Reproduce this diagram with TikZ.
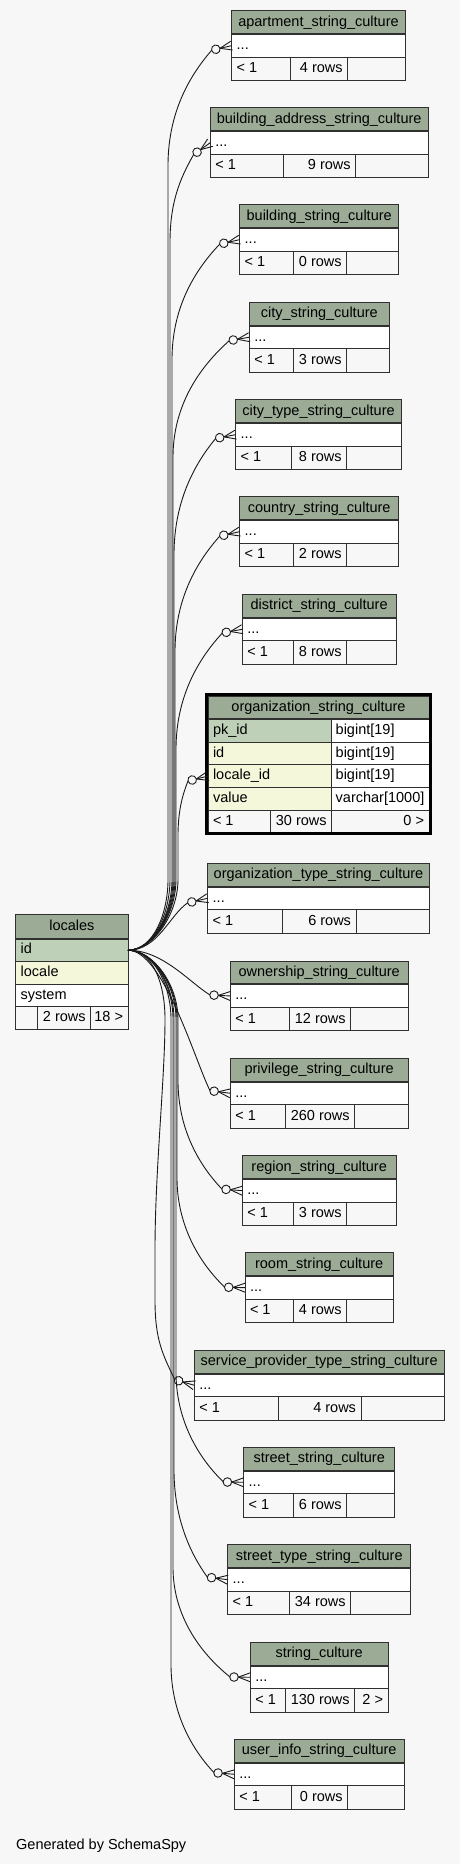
\documentclass[tikz,border=0pt]{standalone}
\usepackage{fontspec}
\setmainfont{Liberation Sans}
\usetikzlibrary{decorations.markings,calc}
\definecolor{bg}{HTML}{F7F7F7}
\definecolor{hdr}{HTML}{9BAB96}
\definecolor{pk}{HTML}{BED1B8}
\definecolor{idx}{HTML}{F4F7DA}
\definecolor{bd}{HTML}{303030}
\definecolor{ln}{HTML}{1A1A1A}

% #1 name, #2 x left, #3 x right, #4 y top, #5 split1, #6 split2, #7 title, #8 rows, #9 last cell
\newcommand{\stab}[9]{%
  \node[cell,fill=hdr,minimum width={(#3-#2)*1bp}] (#1) at (#2,#4) {};
  \node[cell,fill=white,minimum width={(#3-#2)*1bp}] (#1-r) at (#2,{#4+23.3}) {};
  \node[cell,fill=bg,minimum width={(#5-#2)*1bp}] (#1-f1) at (#2,{#4+46.6}) {};
  \node[cell,fill=bg,minimum width={(#6-#5)*1bp}] (#1-f2) at (#5,{#4+46.6}) {};
  \node[cell,fill=bg,minimum width={(#3-#6)*1bp}] (#1-f3) at (#6,{#4+46.6}) {};
  \draw[bd,line width=1.8bp] (#1.south west) -- (#1.south east);
  \node[txt] (#1-tt) at (#1.center) {#7};
  \node[txt,anchor=west] (#1-rt) at ([xshift=5bp]#1-r.west) {...};
  \node[txt,anchor=west] (#1-t1) at ([xshift=5bp]#1-f1.west) {< 1};
  \node[txt,anchor=east] (#1-t2) at ([xshift=-5bp]#1-f2.east) {#8};
  \node[txt,anchor=east] (#1-t3) at ([xshift=-5bp]#1-f3.east) {#9};
}
% #1 target anchor, #2 vertical x, #3 target y, #4 approach length, #5 table left x,
% #6 sign (1 = target above, -1 = below), #7 #8 offset of the circle side point from the target
\newcommand{\fkedge}[8]{%
  \pgfmathsetmacro\edS{949.3-#6*70}%
  \pgfmathsetmacro\edSc{#6*35}%
  \pgfmathsetmacro\edA{#3+#6*#4}%
  \pgfmathsetmacro\edB{-#6*0.4*#4}%
  \pgfmathsetmacro\edC{-0.6*(#5+#7-#2)}%
  \pgfmathsetmacro\edD{#6*0.25*#4}%
  \draw[fk] (loc-id.east) .. controls +(25,0) and +(0,\edSc) .. (#2,\edS) -- (#2,\edA)
    .. controls +(0,\edB) and +(\edC,\edD) .. ($(#1)+(#7,#8)$) -- (#1);}

\begin{document}
\begin{tikzpicture}[x=1bp,y=-1bp,
  every node/.style={font=\fontsize{14.5bp}{17bp}\selectfont},
  cell/.style={draw=bd,line width=1bp,inner sep=0,outer sep=0,minimum height=23.3bp,anchor=north west},
  txt/.style={inner sep=0,outer sep=0,text height=10.5bp,text depth=3bp},
  fk/.style={draw=ln,line width=0.9bp,postaction={decorate},
    decoration={markings,mark=at position -0.3pt with {
      \draw[ln,line width=0.9bp] (-11.7bp,0bp) -- (0.3pt,4.5bp) (-11.7bp,0bp) -- (0.3pt,-4.5bp);
      \draw[ln,line width=0.9bp,fill=bg] (-16bp,0bp) circle[radius=4.3bp];}}}]
\fill[bg] (0,0) rectangle (460,1864);
\useasboundingbox (0,0) rectangle (460,1864);

% small tables
\stab{apt}{231.7}{405.3}{10.7}{290.7}{347.7}{apartment\_string\_culture}{4 rows}{}
\stab{bldaddr}{210.3}{428}{107.7}{283.7}{355.7}{building\_address\_string\_culture}{9 rows}{}
\stab{bldstr}{239.7}{398.7}{204.7}{293}{346.7}{building\_string\_culture}{0 rows}{}
\stab{city}{249.3}{389.3}{302.3}{293}{346.7}{city\_string\_culture}{3 rows}{}
\stab{citytype}{235.7}{401.3}{399.7}{291.7}{346.7}{city\_type\_string\_culture}{8 rows}{}
\stab{country}{239.7}{398.7}{496.7}{293}{346.7}{country\_string\_culture}{2 rows}{}
\stab{district}{242.3}{396}{594.3}{293}{346.7}{district\_string\_culture}{8 rows}{}
\stab{orgtype}{207.7}{429.3}{863.3}{282.7}{356}{organization\_type\_string\_culture}{6 rows}{}
\stab{own}{230.3}{408}{961}{289}{350.7}{ownership\_string\_culture}{12 rows}{}
\stab{priv}{230.3}{408}{1058.3}{285}{354.7}{privilege\_string\_culture}{260 rows}{}
\stab{region}{242.3}{396}{1155.7}{293}{346.7}{region\_string\_culture}{3 rows}{}
\stab{room}{245}{393.3}{1252.7}{293}{346.7}{room\_string\_culture}{4 rows}{}
\stab{svc}{194.3}{444}{1350.3}{278.7}{361}{service\_provider\_type\_string\_culture}{4 rows}{}
\stab{street}{243.7}{394.7}{1447.3}{293}{346.7}{street\_string\_culture}{6 rows}{}
\stab{streettype}{227.7}{410.7}{1544.7}{289}{350.7}{street\_type\_string\_culture}{34 rows}{}
\stab{strc}{250.3}{388}{1642.3}{285}{354.7}{string\_culture}{130 rows}{2 >}
\stab{user}{234.3}{404}{1739.3}{291.7}{347.7}{user\_info\_string\_culture}{0 rows}{}

% locales
\node[cell,fill=hdr,minimum width=112.3bp,minimum height=24.4bp] (loc) at (15.7,914.3) {};
\node[cell,fill=pk,minimum width=112.3bp,minimum height=23bp] (loc-id) at (15.7,938.7) {};
\node[cell,fill=idx,minimum width=112.3bp,minimum height=23bp] (loc-locale) at (15.7,961.7) {};
\node[cell,fill=white,minimum width=112.3bp,minimum height=22bp] (loc-sys) at (15.7,984.7) {};
\node[cell,fill=bg,minimum width=22bp,minimum height=22.6bp] (loc-f1) at (15.7,1006.7) {};
\node[cell,fill=bg,minimum width=53bp,minimum height=22.6bp] (loc-f2) at (37.7,1006.7) {};
\node[cell,fill=bg,minimum width=37.3bp,minimum height=22.6bp] (loc-f3) at (90.7,1006.7) {};
\draw[bd,line width=1.8bp] (loc.south west) -- (loc.south east);
\node[txt] (loc-tt) at (loc.center) {locales};
\node[txt,anchor=west] (loc-t1) at ([xshift=5bp]loc-id.west) {id};
\node[txt,anchor=west] (loc-t2) at ([xshift=5bp]loc-locale.west) {locale};
\node[txt,anchor=west] (loc-t3) at ([xshift=5bp]loc-sys.west) {system};
\node[txt,anchor=east] (loc-t4) at ([xshift=-5bp]loc-f2.east) {2 rows};
\node[txt,anchor=east] (loc-t5) at ([xshift=-5bp]loc-f3.east) {18 >};

% organization_string_culture
\node[cell,fill=hdr,minimum width=221bp] (org) at (208,696) {};
\node[cell,fill=pk,minimum width=123.7bp,minimum height=22.7bp] (org-c1a) at (208,719.3) {};
\node[cell,fill=white,minimum width=97.3bp,minimum height=22.7bp] (org-c1b) at (331.7,719.3) {};
\node[cell,fill=idx,minimum width=123.7bp,minimum height=22.7bp] (org-c2a) at (208,742) {};
\node[cell,fill=white,minimum width=97.3bp,minimum height=22.7bp] (org-c2b) at (331.7,742) {};
\node[cell,fill=idx,minimum width=123.7bp,minimum height=22.7bp] (org-c3a) at (208,764.7) {};
\node[cell,fill=white,minimum width=97.3bp,minimum height=22.7bp] (org-c3b) at (331.7,764.7) {};
\node[cell,fill=idx,minimum width=123.7bp,minimum height=22.7bp] (org-c4a) at (208,787.3) {};
\node[cell,fill=white,minimum width=97.3bp,minimum height=22.7bp] (org-c4b) at (331.7,787.3) {};
\node[cell,fill=bg,minimum width=62.3bp,minimum height=22.7bp] (org-f1) at (208,810) {};
\node[cell,fill=bg,minimum width=61.4bp,minimum height=22.7bp] (org-f2) at (270.3,810) {};
\node[cell,fill=bg,minimum width=97.3bp,minimum height=22.7bp] (org-f3) at (331.7,810) {};
\draw[bd,line width=1.8bp] (org.south west) -- (org.south east);
\node[draw=black,line width=3bp,inner sep=0,outer sep=0,minimum width=224.3bp,minimum height=139bp,anchor=north west] (orgframe) at (206.5,694.8) {};
\node[txt] (org-tt) at (org.center) {organization\_string\_culture};
\node[txt,anchor=west] (org-n1) at ([xshift=5bp]org-c1a.west) {pk\_id};
\node[txt,anchor=west] (org-n2) at ([xshift=5bp]org-c2a.west) {id};
\node[txt,anchor=west] (org-n3) at ([xshift=5bp]org-c3a.west) {locale\_id};
\node[txt,anchor=west] (org-n4) at ([xshift=5bp]org-c4a.west) {value};
\node[txt,anchor=west] (org-y1) at ([xshift=4bp]org-c1b.west) {bigint[19]};
\node[txt,anchor=west] (org-y2) at ([xshift=4bp]org-c2b.west) {bigint[19]};
\node[txt,anchor=west] (org-y3) at ([xshift=4bp]org-c3b.west) {bigint[19]};
\node[txt,anchor=west] (org-y4) at ([xshift=4bp]org-c4b.west) {varchar[1000]};
\node[txt,anchor=west] (org-t1) at ([xshift=5bp]org-f1.west) {< 1};
\node[txt,anchor=east] (org-t2) at ([xshift=-5bp]org-f2.east) {30 rows};
\node[txt,anchor=east] (org-t3) at ([xshift=-5bp]org-f3.east) {0 >};

% connectors
\fkedge{apt-r.west}{168}{45.7}{120}{231.7}{1}{-19.9}{4.5}
\fkedge{bldaddr-r.west}{170}{142.7}{100}{210.3}{1}{-16.8}{12.1}
\fkedge{bldstr-r.west}{172}{239.7}{120}{239.7}{1}{-20}{4.5}
\fkedge{city-r.west}{173}{337.3}{120}{249.3}{1}{-20}{3.4}
\fkedge{citytype-r.west}{174}{434.7}{120}{235.7}{1}{-20}{3.8}
\fkedge{country-r.west}{175}{531.7}{120}{239.7}{1}{-20}{4.5}
\fkedge{district-r.west}{176}{629.3}{120}{242.3}{1}{-20}{3.8}
\fkedge{org-c3a.west}{178}{776}{60}{208}{1}{-20}{5}
\draw[fk] (loc-id.east) .. controls +(30,0) and +(-18,12) .. ($(orgtype-r.west)+(-20,4.6)$) -- (orgtype-r.west);
\draw[fk] (loc-id.east) .. controls +(35,0) and +(-20,-12) .. ($(own-r.west)+(-20.3,-1)$) -- (own-r.west);
\draw[fk] (loc-id.east) .. controls +(35,0) and +(-15,-30) .. ($(priv-r.west)+(-20.3,-2.6)$) -- (priv-r.west);
\fkedge{region-r.west}{178}{1190.7}{110}{242.3}{-1}{-20.3}{-1.6}
\fkedge{room-r.west}{177}{1287.7}{110}{245}{-1}{-20.3}{-0.5}
\draw[fk] (loc-id.east) .. controls +(25,0) and +(0,-35) .. (165,1019)
  .. controls +(0,60) and +(0,-80) .. (155,1250) -- (155,1300)
  .. controls +(0,40) and +(-12,-25) .. ($(svc-r.west)+(-19.5,-5.6)$) -- (svc-r.west);
\fkedge{street-r.west}{176}{1482.3}{110}{243.7}{-1}{-20.3}{-0.3}
\fkedge{streettype-r.west}{174}{1579.7}{110}{227.7}{-1}{-20.3}{-2.5}
\fkedge{strc-r.west}{173}{1677.3}{110}{250.3}{-1}{-20.3}{-0.3}
\fkedge{user-r.west}{171}{1774.3}{110}{234.3}{-1}{-20.3}{-1.6}

\node[inner sep=0,anchor=base west] (gen) at (16,1849) {Generated by SchemaSpy};
\end{tikzpicture}
\end{document}
